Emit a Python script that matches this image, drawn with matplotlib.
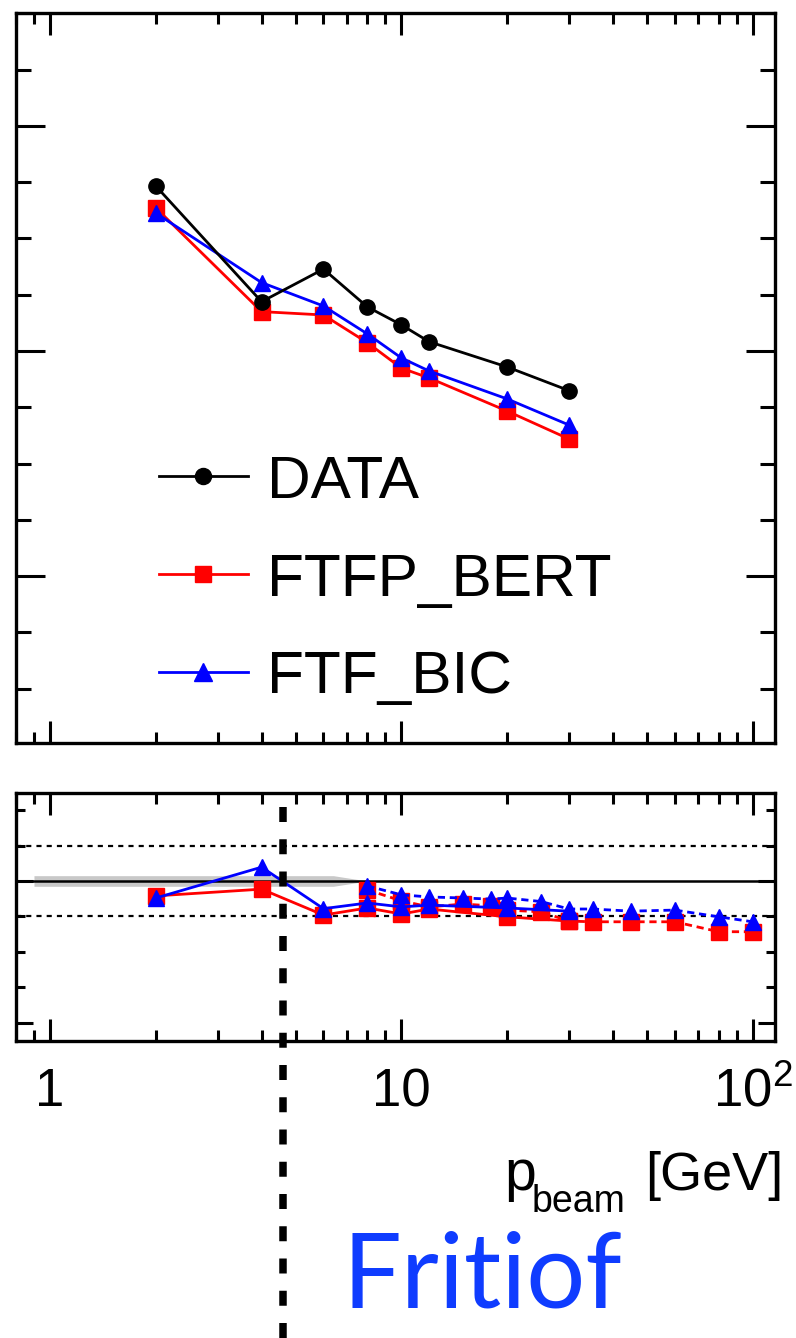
import matplotlib
matplotlib.use('Agg')
import matplotlib.pyplot as plt
from matplotlib.ticker import FixedLocator, MultipleLocator, LogLocator, NullFormatter, FixedFormatter

plt.rcParams['font.family'] = ['Liberation Sans', 'DejaVu Sans']
plt.rcParams['mathtext.fontset'] = 'custom'
plt.rcParams['mathtext.rm'] = 'Liberation Sans'
plt.rcParams['mathtext.it'] = 'Liberation Sans:italic'
plt.rcParams['mathtext.bf'] = 'Liberation Sans:bold'
plt.rcParams['mathtext.default'] = 'regular'

# ---------------- data ----------------
p_beam = [2, 4, 6, 8, 10, 12, 20, 30]
data_vals = [273.3, 221.9, 236.4, 219.6, 211.6, 204.1, 192.9, 182.4]
ftfp_bert_vals = [263.6, 217.5, 216.0, 203.7, 192.4, 188.0, 173.3, 160.9]
ftf_bic_vals = [261.3, 230.4, 220.0, 207.6, 196.9, 191.1, 178.7, 167.1]

ratio_ftfp_bert = [0.958, 0.977, 0.904, 0.924, 0.907, 0.921, 0.899, 0.887]
ratio_ftf_bic = [0.952, 1.039, 0.922, 0.938, 0.927, 0.932, 0.924, 0.915]

p_scan = [8, 10, 12, 15, 18, 20, 25, 30, 35, 45, 60, 80, 100]
scan_ftfp_bert = [0.975, 0.944, 0.927, 0.935, 0.930, 0.918, 0.913, 0.887, 0.885, 0.885, 0.885, 0.857, 0.857]
scan_ftf_bic = [0.986, 0.961, 0.955, 0.952, 0.949, 0.952, 0.942, 0.921, 0.921, 0.915, 0.918, 0.899, 0.885]

band_x = [0.9, 6.4, 8.0]
band_halfwidth = [0.015, 0.015, 0.0]

p_transition = 4.6
legend_labels = ['DATA', 'FTFP_BERT', 'FTF_BIC']
xtick_vals = [1, 10, 100]
xtick_labels = ['1', '10', '10$^2$']

# ---------------- figure ----------------
W, H = 796, 1338
fig = plt.figure(figsize=(W / 100, H / 100), dpi=100)


def rect(l, t, r, b):
    return [l / W, 1 - b / H, (r - l) / W, (b - t) / H]


ax1 = fig.add_axes(rect(16, 13, 775, 743))
ax2 = fig.add_axes(rect(16, 793, 775, 1041))

RED = '#ff0000'
BLUE = '#0000ff'
lw = 2.0
ms_o, ms_s, ms_t = 11.0, 11.2, 11.8

# top panel
ax1.plot(p_beam, data_vals, '-o', color='black', lw=lw, ms=ms_o, label=legend_labels[0], zorder=5)
ax1.plot(p_beam, ftfp_bert_vals, '-s', color=RED, lw=lw, ms=ms_s, label=legend_labels[1], zorder=3)
ax1.plot(p_beam, ftf_bic_vals, '-^', color=BLUE, lw=lw, ms=ms_t, label=legend_labels[2], zorder=4)

leg = ax1.legend(loc='center left', bbox_to_anchor=((159 - 16) / 759, (743 - 580) / 730),
                 frameon=False, fontsize=43.5, handlelength=1.47, handletextpad=0.31,
                 labelspacing=0.71, borderpad=0, borderaxespad=0, markerscale=1.05)

# bottom panel
lower = [1 - h for h in band_halfwidth]
upper = [1 + h for h in band_halfwidth]
ax2.fill_between(band_x, lower, upper, color='#c8c8c8', lw=0, zorder=1)
ax2.axhline(1.0, color='black', lw=1.8, zorder=2)
ax2.axhline(1.1, color='black', lw=1.6, ls=(0, (2.3, 2.3)), zorder=2)
ax2.axhline(0.9, color='black', lw=1.6, ls=(0, (2.3, 2.3)), zorder=2)

dash = (0, (2.6, 1.7))
ax2.plot(p_scan, scan_ftfp_bert, marker='s', ls=dash, color=RED, lw=lw, ms=ms_s, zorder=3)
ax2.plot(p_beam, ratio_ftfp_bert, marker='s', ls='-', color=RED, lw=lw, ms=ms_s, zorder=3)
ax2.plot(p_scan, scan_ftf_bic, marker='^', ls=dash, color=BLUE, lw=lw, ms=ms_t, zorder=4)
ax2.plot(p_beam, ratio_ftf_bic, marker='^', ls='-', color=BLUE, lw=lw, ms=ms_t, zorder=4)

ax2.axvline(p_transition, ymin=(1041 - 1338) / 248, ymax=(1041 - 790) / 248, clip_on=False,
            color='black', lw=5.4, ls=(0, (2.0, 2.3)), zorder=10)

# axes styling
for ax in (ax1, ax2):
    ax.set_xscale('log')
    ax.set_xlim(0.8, 115.7)
    ax.xaxis.set_major_locator(FixedLocator(xtick_vals))
    ax.xaxis.set_minor_locator(LogLocator(base=10, subs=range(2, 10), numticks=20))
    ax.xaxis.set_minor_formatter(NullFormatter())
    for s in ax.spines.values():
        s.set_linewidth(2.4)
    ax.tick_params(which='both', direction='in', top=True, right=True, width=2.2)
    ax.tick_params(axis='x', which='major', length=16)
    ax.tick_params(axis='x', which='minor', length=8)

ax1.set_ylim(25.8, 350.2)
ax1.yaxis.set_major_locator(MultipleLocator(100))
ax1.yaxis.set_minor_locator(MultipleLocator(25))
ax1.tick_params(axis='y', which='major', length=21)
ax1.tick_params(axis='y', which='minor', length=11)
ax1.tick_params(labelbottom=False, labelleft=False)

ax2.set_ylim(0.549, 1.248)
ax2.yaxis.set_major_locator(FixedLocator([0.6, 1.0, 1.4]))
ax2.yaxis.set_minor_locator(MultipleLocator(0.1))
ax2.tick_params(axis='y', which='major', length=12.5)
ax2.tick_params(axis='y', which='minor', length=6.5)
ax2.tick_params(labelleft=False)
ax2.xaxis.set_major_formatter(FixedFormatter(xtick_labels))
ax2.tick_params(axis='x', which='major', labelsize=38, pad=19)

# axis title: p_beam [GeV]
fig.text(783 / W, 1 - 1190 / H, '[GeV]', ha='right', va='baseline', fontsize=39)
fig.text(625 / W, 1 - 1212 / H, 'beam', ha='right', va='baseline', fontsize=27)
fig.text(536 / W, 1 - 1190 / H, 'p', ha='right', va='baseline', fontsize=41)

fig.text(343 / W, 1 - 1307 / H, 'Fritiof', ha='left', va='baseline', fontsize=75,
         color='#0f3cff', family=['Lato', 'DejaVu Sans'])

fig.savefig('out.png', dpi=100)
